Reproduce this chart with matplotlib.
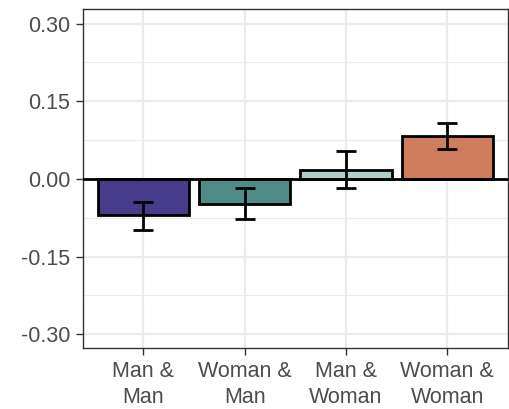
import matplotlib
matplotlib.use("Agg")
import matplotlib.pyplot as plt
import numpy as np

categories = ["Man &\nMan", "Woman &\nMan", "Man &\nWoman", "Woman &\nWoman"]
values = [-0.070, -0.048, 0.017, 0.083]
err_low = [-0.098, -0.077, -0.017, 0.057]
err_high = [-0.044, -0.018, 0.053, 0.108]
colors = ["#473C8B", "#4F8C88", "#AFCFCB", "#CE7D5E"]
yticks = [-0.30, -0.15, 0.00, 0.15, 0.30]
yticklabels = ["-0.30", "-0.15", "0.00", "0.15", "0.30"]

plt.rcParams['font.family'] = ['Liberation Sans', 'DejaVu Sans']

fig = plt.figure(figsize=(5.10, 4.09), dpi=100)
ax = fig.add_axes([82.7/510, 1 - 348.3/409, (508 - 82.7)/510, (348.3 - 9)/409])

x = np.arange(1, len(categories) + 1)
ax.set_xlim(0.4, 4.6)
ax.set_ylim(-0.327, 0.328)

# grid
for v in [-0.225, -0.075, 0.075, 0.225]:
    ax.axhline(v, color="#EBEBEB", lw=0.8, zorder=0)
for v in yticks:
    ax.axhline(v, color="#EBEBEB", lw=1.6, zorder=0)
for v in x:
    ax.axvline(v, color="#EBEBEB", lw=1.6, zorder=0)

ax.bar(x, values, width=0.9, color=colors, edgecolor="black", linewidth=2.0, zorder=2)
ax.axhline(0, color="black", lw=2.0, zorder=3)

vals = np.array(values)
yerr = np.array([vals - np.array(err_low), np.array(err_high) - vals])
ax.errorbar(x, vals, yerr=yerr, fmt="none", ecolor="black", elinewidth=2.0,
            capsize=7, capthick=2.0, zorder=4)

ax.set_xticks(x)
ax.set_xticklabels(categories, linespacing=1.3)
ax.set_yticks(yticks)
ax.set_yticklabels(yticklabels)
ax.tick_params(axis="both", length=5, width=1.0, color="#333333",
               labelcolor="#4D4D4D", labelsize=15.5, pad=4)
for s in ax.spines.values():
    s.set_color("#333333")
    s.set_linewidth(1.0)

fig.savefig("out.png", dpi=100)
